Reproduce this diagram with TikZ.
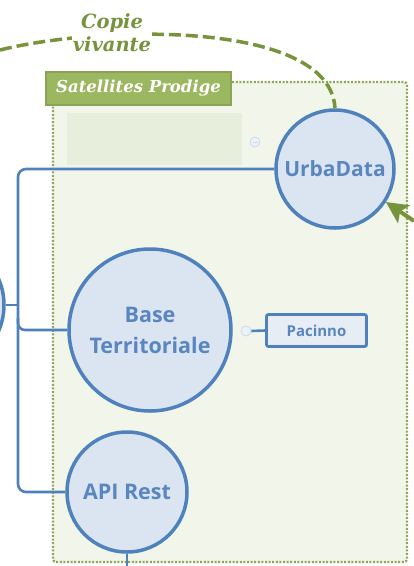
\documentclass[tikz,border=0pt]{standalone}
\usepackage{fontspec}
\usetikzlibrary{arrows.meta}
\newfontfamily\nodefont{Open Sans}
\newfontfamily\labfont{DejaVu Serif}
\definecolor{nblue}{HTML}{4F81BD}
\definecolor{nfill}{HTML}{DBE5F1}
\definecolor{ntext}{HTML}{5A86C0}
\definecolor{gdark}{HTML}{77933C}
\definecolor{gmid}{HTML}{9BB75F}
\definecolor{gdot}{HTML}{8EA85A}
\definecolor{gfill}{HTML}{F2F6EA}
\definecolor{gfaint}{HTML}{E8EEDC}
\tikzset{
  circnode/.style={circle, draw=nblue, line width=3.5pt, fill=nfill, text=ntext,
    font=\nodefont\bfseries, align=center, inner sep=0pt},
  boxnode/.style={rectangle, rounded corners=2pt, draw=nblue, line width=2.8pt, fill=nfill!70!white,
    text=ntext, font=\nodefont\bfseries\fontsize{15}{17}\selectfont, inner sep=0pt,
    minimum width=100pt, minimum height=32pt},
  conn/.style={draw=nblue, line width=2.6pt},
  minusicon/.style={circle, draw=nblue!30, fill=nfill!50, line width=0.8pt, minimum size=10pt, inner sep=0pt},
  glabel/.style={font=\labfont\bfseries\itshape\fontsize{19.5}{23}\selectfont, text=gdark, align=center},
}
\begin{document}
\begin{tikzpicture}[x=1pt,y=-1pt]
\useasboundingbox (0,0) rectangle (414,566);
\fill[white] (0,0) rectangle (414,566);
% container
\draw[draw=gdot, fill=gfill, line width=2.4pt, dash pattern=on 2pt off 1.6pt, rounded corners=3pt]
  (53,82) rectangle (407,562);
\fill[gfaint] (67,113) rectangle (242,165);
\node[draw=gdark!85!white, fill=gmid, line width=2pt, minimum width=185pt, minimum height=33pt,
  inner sep=0pt, text=white, font=\labfont\bfseries\itshape\fontsize{16.5}{20}\selectfont]
  (sat) at (138.5,88) {Satellites Prodige};
% root circle (off image)
\node[circle, draw=nblue, line width=3.5pt, fill=nfill, minimum size=130pt, inner sep=0pt] (root) at (-61,305) {};
% nodes
\node[circnode, minimum size=118pt, font=\nodefont\bfseries\fontsize{21}{24}\selectfont] (U) at (335,169) {UrbaData};
\node[circnode, minimum size=162pt, font=\nodefont\bfseries\fontsize{21.5}{31}\selectfont] (B) at (150,330) {Base\\Territoriale};
\node[circnode, minimum size=120pt, font=\nodefont\bfseries\fontsize{21.5}{24}\selectfont] (A) at (127,492) {API Rest};
\node[boxnode] (P) at (316.5,330.5) {Pacinno};
\node[minusicon] (m1) at (255,142) {};
\node[minusicon] (m2) at (246,331) {};
\draw[nblue!30, line width=0.8pt] ([xshift=-2.5pt]m1.center) -- ([xshift=2.5pt]m1.center);
% connectors
\coordinate (vx) at (18,305);
\draw[conn, rounded corners=8pt] (U.west) -- (18,169) -- (18,492) -- (A.west);
\draw[conn, rounded corners=7pt] (18,318) |- (B.west);
\draw[conn] (root.east) -- (vx);
\draw[conn] (m2.east) -- (P.west);
\coordinate (bot) at (127,566);
\draw[conn] (A.south) -- (bot);
% copie vivante
\coordinate (cvstart) at (0,50);
\draw[gdark, line width=3.5pt, dash pattern=on 12pt off 5pt]
  (cvstart) .. controls (100,25) and (330,20) .. (U.north);
\node[glabel, fill=white, inner sep=1pt] (cv) at (112,33) {Copie\\vivante};
% green arrow from right
\coordinate (gin) at (414,221);
\draw[gdark, line width=4pt, -{Stealth[length=22pt, width=22pt, inset=5pt, line width=0pt]}] (gin) -- (U.-33);
\end{tikzpicture}
\end{document}
